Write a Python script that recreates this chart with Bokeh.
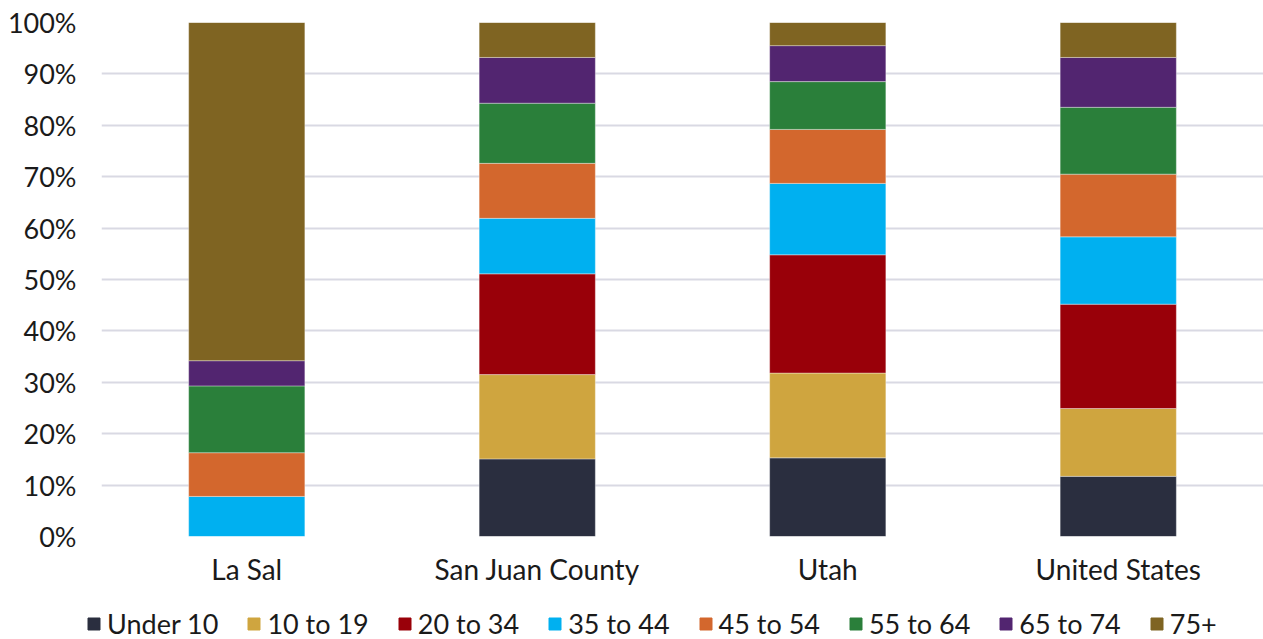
from bokeh.plotting import figure
from bokeh.layouts import column
from bokeh.models import ColumnDataSource, Legend, LegendItem, NumeralTickFormatter, FixedTicker, Range1d
from bokeh.embed import file_html
from bokeh.resources import INLINE

places = ["La Sal", "San Juan County", "Utah", "United States"]
groups = ["Under 10", "10 to 19", "20 to 34", "35 to 44", "45 to 54", "55 to 64", "65 to 74", "75+"]
under_10 = [0.0, 15.1, 15.3, 11.7]
age_10_19 = [0.0, 16.4, 16.5, 13.2]
age_20_34 = [0.0, 19.6, 23.0, 20.3]
age_35_44 = [7.8, 10.8, 13.9, 13.1]
age_45_54 = [8.5, 10.7, 10.5, 12.2]
age_55_64 = [13.0, 11.7, 9.3, 13.0]
age_65_74 = [4.9, 8.9, 7.0, 9.7]
age_75_plus = [65.8, 6.8, 4.5, 6.8]
colors = ["#2a2e3f", "#cfa53f", "#990009", "#00b0f0", "#d3672d", "#2a7f3a", "#522570", "#7f6422"]

series = [under_10, age_10_19, age_20_34, age_35_44, age_45_54, age_55_64, age_65_74, age_75_plus]
data = {"place": places}
for g, s in zip(groups, series):
    data[g] = [v / 100.0 for v in s]
src = ColumnDataSource(data)

FONT = "Lato"
TXT = "#1a1a1a"
p = figure(x_range=places, y_range=(0, 1), frame_width=1162, frame_height=514,
           output_backend="svg", toolbar_location=None,
           min_border_top=22, min_border_right=0, min_border_left=101,
           min_border_bottom=10)
p.frame_align = False

p.vbar_stack(groups, x="place", width=0.4, source=src, color=colors,
             line_color="white", line_width=0.6, line_alpha=0.6)

p.outline_line_color = None
p.xgrid.grid_line_color = None
p.ygrid.grid_line_color = "#d9d9e3"
p.ygrid.grid_line_width = 2
p.yaxis.ticker = FixedTicker(ticks=[i / 10 for i in range(11)])
p.yaxis.formatter = NumeralTickFormatter(format="0%")
for ax in (p.xaxis[0], p.yaxis[0]):
    ax.axis_line_color = None
    ax.major_tick_line_color = None
    ax.minor_tick_line_color = None
    ax.major_label_text_font = FONT
    ax.major_label_text_color = TXT
p.yaxis.major_label_text_font_size = "27px"
p.xaxis.major_label_text_font_size = "28px"
p.yaxis.major_label_standoff = 19
p.xaxis.major_label_standoff = 9

# legend strip below the chart
lg = figure(x_range=p.x_range, y_range=Range1d(5, 6), width=1263, height=52,
            output_backend="svg", toolbar_location=None,
            x_axis_location=None, y_axis_location=None,
            min_border_top=0, min_border_bottom=0, min_border_left=0, min_border_right=0)
lg.frame_align = False
lg.outline_line_color = None
lg.xgrid.grid_line_color = None
lg.ygrid.grid_line_color = None
lrs = lg.vbar_stack(groups, x="place", width=0.4, source=src, color=colors)
items = [LegendItem(label=g, renderers=[r]) for g, r in zip(groups, lrs)]
legend = Legend(items=items, orientation="horizontal", location=(86, 0),
                label_text_font=FONT, label_text_font_size="27px", label_text_color=TXT,
                glyph_width=15, glyph_height=15, label_standoff=6, spacing=28,
                padding=0, margin=0, border_line_color=None, background_fill_alpha=0)
lg.add_layout(legend, "center")

open("out.html", "w").write(file_html(column(p, lg, spacing=0), INLINE))
